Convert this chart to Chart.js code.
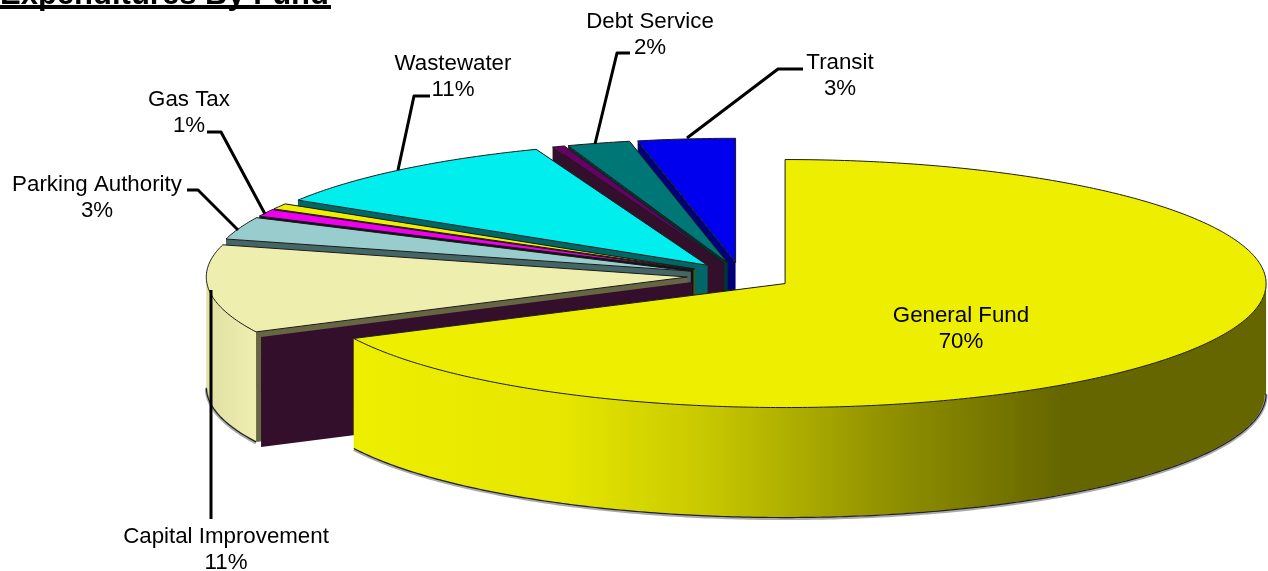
<!DOCTYPE html>
<html>
<head>
<meta charset="utf-8">
<title>Expenditures By Fund</title>
<script src="https://cdn.jsdelivr.net/npm/chart.js@4/dist/chart.umd.min.js"></script>
<style>
  html, body { margin: 0; padding: 0; background: #fff; overflow: hidden; }
  canvas { display: block; }
</style>
</head>
<body>
<canvas id="fundChart" width="1268" height="571"></canvas>
<script>
// clockwise from twelve o'clock; the two blank ones are the unlabelled slivers
const categories = ["General Fund", "Capital Improvement", "Parking Authority", "Gas Tax", "", "Wastewater", "", "Debt Service", "Transit"];
const percents = [70, 11, 3, 1, 0.8, 11, 0.4, 2, 3];

const topColors = ["#eeee00", "#eeeeaf", "#99cccc", "#ee00ee", "#eeee00", "#00eeee", "#660066", "#007777", "#0000ee"];
const sideColors = ["#eeee00", "#666644", "#446666", "#111111", "#555500", "#006666", "#330f2b", "#003333", "#000077"];

// pie placement on the page
const PIE_X = 740.5, PIE_Y = 276, RADIUS_X = 481, RADIUS_Y = 124, DEPTH = 110;
const FONT = '22.3px "Liberation Sans", Arial, sans-serif';

// where each caption sits and how its leader runs
const captions = [
  { i: 0, x: 961, y: 316, line: null },
  { i: 1, x: 226, y: 537, line: [[211, 519], [211, 290]] },
  { i: 2, x: 97, y: 185, line: [[187, 190], [198, 190], [238, 230]] },
  { i: 3, x: 189, y: 100, line: [[207, 132], [221, 132], [265, 214]] },
  { i: 5, x: 453, y: 64, line: [[430, 96], [414, 96], [398, 170]] },
  { i: 7, x: 650, y: 22, line: [[630, 53], [617, 53], [595, 144]] },
  { i: 8, x: 840, y: 63, line: [[803, 69], [778, 69], [687, 138]] },
];

function trace(ctx, pts) {
  ctx.beginPath();
  pts.forEach((p, n) => (n ? ctx.lineTo(p[0], p[1]) : ctx.moveTo(p[0], p[1])));
}

function fillPoly(ctx, pts, color) {
  trace(ctx, pts);
  ctx.closePath();
  ctx.fillStyle = color;
  ctx.fill();
}

// camera foreshortening: wedges at the far side and lower left spread a little
function viewAngle(a) {
  let t = a + Math.PI / 2;
  if (t > Math.PI) t -= 2 * Math.PI;
  const c = Math.cos(t);
  const back = t * 0.12 * c * c * c * c * (Math.abs(t) < Math.PI / 2 ? 1 : 0);
  const side = -0.05 * Math.exp(-Math.pow((t + 1.99) / 0.44, 2));
  return a + back + side;
}

// apex and rim of one slice, squashed onto the tilted plane
function sliceShape(arc) {
  const kx = RADIUS_X / arc.outerRadius, ky = RADIUS_Y / arc.outerRadius;
  const mid = (arc.startAngle + arc.endAngle) / 2;
  const ox = Math.cos(mid) * arc.options.offset, oy = Math.sin(mid) * arc.options.offset;
  const apex = [PIE_X + ox * kx, PIE_Y + oy * ky];
  const rim = [];
  const steps = Math.max(2, Math.ceil((arc.endAngle - arc.startAngle) * 90));
  for (let s = 0; s <= steps; s++) {
    const a = viewAngle(arc.startAngle + (arc.endAngle - arc.startAngle) * s / steps);
    rim.push([apex[0] + Math.cos(a) * RADIUS_X, apex[1] + Math.sin(a) * RADIUS_Y, a]);
  }
  return { apex, rim };
}

const down = (p, d = DEPTH) => [p[0], p[1] + d];

function drawSlice(ctx, arc, i) {
  const { apex, rim } = sliceShape(arc);
  const first = rim[0], last = rim[rim.length - 1];

  // flat cut faces
  fillPoly(ctx, [apex, first, down(first), down(apex)], sideColors[i]);
  fillPoly(ctx, [apex, last, down(last), down(apex)], sideColors[i]);
  if (i === 1) {
    // dark inner face of the capital improvement slice
    const shift = p => [p[0] + 5, p[1] + 5];
    fillPoly(ctx, [apex, first, down(first), down(apex)].map(shift), "#330f2b");
  }

  // curved outer wall, front half only
  const front = rim.filter(p => Math.sin(p[2]) > 0);
  if (front.length > 1) {
    const wall = front.concat(front.slice().reverse().map(p => down(p)));
    let paint = "#d8d79a";
    if (i === 0) {
      paint = ctx.createLinearGradient(352, 0, 1060, 0);
      paint.addColorStop(0, "#eeee00");
      paint.addColorStop(0.3, "#e6e600");
      paint.addColorStop(0.5, "#c8c800");
      paint.addColorStop(0.75, "#929200");
      paint.addColorStop(1, "#666600");
    } else if (i === 1) {
      paint = ctx.createLinearGradient(208, 0, 256, 0);
      paint.addColorStop(0, "#e2e0a4");
      paint.addColorStop(1, "#eeeeaf");
    }
    fillPoly(ctx, wall, paint);
    // soft grey edge under the wall, then its dark line
    const bottom = front.map(p => down(p));
    trace(ctx, bottom.map(p => [p[0], p[1] + 1]));
    ctx.strokeStyle = "#aaaaaa";
    ctx.lineWidth = 3;
    ctx.stroke();
    trace(ctx, bottom);
    ctx.strokeStyle = "#222222";
    ctx.lineWidth = 1.2;
    ctx.stroke();
  }

  // top face
  const top = [apex].concat(rim);
  fillPoly(ctx, top, topColors[i]);
  trace(ctx, top);
  ctx.closePath();
  ctx.strokeStyle = "#1a1a1a";
  ctx.lineWidth = 1;
  ctx.stroke();
}

function drawCaptions(ctx) {
  ctx.fillStyle = "#000";
  ctx.font = FONT;
  ctx.textAlign = "center";
  ctx.textBaseline = "middle";
  captions.forEach(c => {
    ctx.fillText(categories[c.i], c.x, c.y);
    ctx.fillText(percents[c.i] + "%", c.x, c.y + 26);
    if (c.line) {
      trace(ctx, c.line);
      ctx.strokeStyle = "#000";
      ctx.lineWidth = 3;
      ctx.stroke();
    }
  });
}

function drawHeading(ctx) {
  ctx.fillStyle = "#000";
  ctx.font = 'bold 31px "Liberation Sans", Arial, sans-serif';
  ctx.textAlign = "left";
  ctx.textBaseline = "alphabetic";
  ctx.fillText("Expenditures By Fund", 0, 4);
  ctx.fillRect(0, 5, 331, 4);
}

const tiltedPie = {
  id: "tiltedPie",
  beforeDatasetsDraw(chart) {
    const ctx = chart.ctx;
    const arcs = chart.getDatasetMeta(0).data;
    ctx.save();
    ctx.lineJoin = "round";
    // back slices first, general fund goes on last
    for (let i = arcs.length - 1; i >= 0; i--) drawSlice(ctx, arcs[i], i);
    drawCaptions(ctx);
    drawHeading(ctx);
    ctx.restore();
    return false;
  },
};

new Chart(document.getElementById("fundChart"), {
  type: "pie",
  data: {
    labels: categories,
    datasets: [{
      data: percents,
      backgroundColor: topColors,
      borderWidth: 0,
      offset: 30,
      clip: false,
    }],
  },
  options: {
    responsive: false,
    animation: false,
    rotation: 0,
    plugins: { legend: { display: false }, tooltip: { enabled: false } },
  },
  plugins: [tiltedPie],
});
</script>
</body>
</html>
